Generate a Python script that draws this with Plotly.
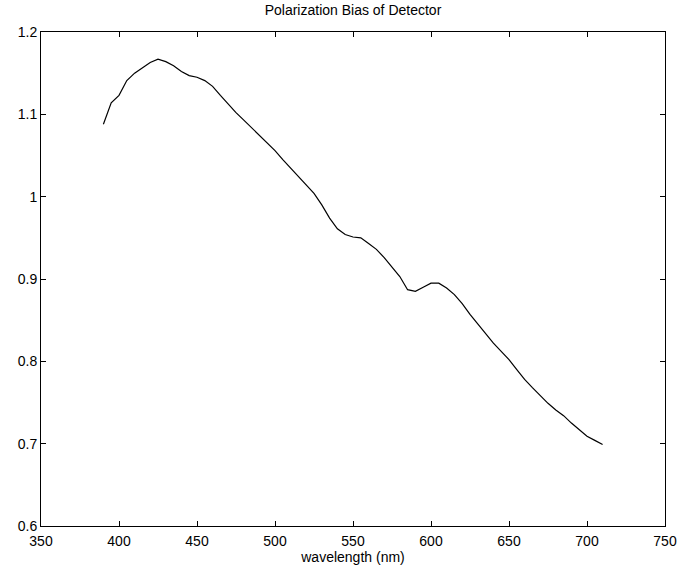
import plotly.graph_objects as go

wavelength = [390, 395, 400, 405, 410, 415, 420, 425, 430, 435, 440, 445, 450, 455,
              460, 465, 470, 475, 480, 485, 490, 495, 500, 505, 510, 515, 520, 525,
              530, 535, 540, 545, 550, 555, 560, 565, 570, 575, 580, 585, 590, 595,
              600, 605, 610, 615, 620, 625, 630, 635, 640, 645, 650, 655, 660, 665,
              670, 675, 680, 685, 690, 695, 700, 705, 710]
bias = [1.088, 1.114, 1.123, 1.141, 1.150, 1.157, 1.163, 1.167, 1.164, 1.159, 1.152,
        1.147, 1.145, 1.141, 1.134, 1.123, 1.112, 1.102, 1.093, 1.084, 1.075, 1.066,
        1.056, 1.045, 1.035, 1.024, 1.014, 1.004, 0.990, 0.974, 0.961, 0.954, 0.951,
        0.950, 0.943, 0.936, 0.926, 0.915, 0.903, 0.887, 0.885, 0.890, 0.895, 0.895,
        0.889, 0.881, 0.870, 0.857, 0.845, 0.834, 0.822, 0.812, 0.802, 0.790, 0.778,
        0.768, 0.758, 0.749, 0.741, 0.734, 0.725, 0.717, 0.709, 0.704, 0.699]

x_ticks = [350, 400, 450, 500, 550, 600, 650, 700, 750]
y_ticks = [0.6, 0.7, 0.8, 0.9, 1.0, 1.1, 1.2]
y_tick_text = ["0.6", "0.7", "0.8", "0.9", "1", "1.1", "1.2"]

fig = go.Figure()
fig.add_trace(go.Scatter(x=wavelength, y=bias, mode="lines",
                         line=dict(color="black", width=1.2), showlegend=False))

font = dict(family="Liberation Sans, Arial, sans-serif", size=14, color="black")
axis_common = dict(showgrid=False, zeroline=False, showline=True, linecolor="black",
                   linewidth=1, mirror="ticks", ticks="inside", ticklen=5,
                   tickcolor="black", tickwidth=1, tickfont=font, automargin=False)

fig.update_layout(
    width=680, height=569,
    margin=dict(l=41, r=15, t=32, b=43),
    paper_bgcolor="white", plot_bgcolor="white",
    font=font,
    title=dict(text="Polarization Bias of Detector", font=font, x=(41 + 665) / 2 / 680,
               xanchor="center", y=1 - 10 / 569, yanchor="middle", automargin=False),
    xaxis=dict(range=[350, 750], tickvals=x_ticks, ticktext=[str(v) for v in x_ticks],
               ticklabelstandoff=2,
               title=dict(text="wavelength (nm)", font=font, standoff=1), **axis_common),
    yaxis=dict(range=[0.6, 1.2], tickvals=y_ticks, ticktext=y_tick_text, **axis_common),
)

fig.write_html("out.html")
